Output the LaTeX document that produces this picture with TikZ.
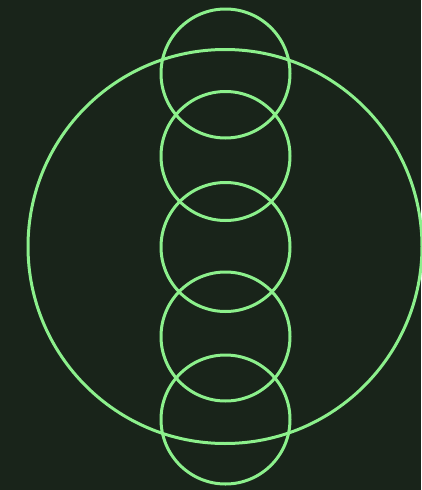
\documentclass[tikz,border=0pt]{standalone}
\definecolor{bg}{HTML}{19241A}
\definecolor{ln}{HTML}{8CF08C}
\begin{document}
\begin{tikzpicture}[x=1pt,y=-1pt,ring/.style={draw=ln,line width=3pt}]
\fill[bg] (0,0) rectangle (421,490);
\useasboundingbox (0,0) rectangle (421,490);
\draw[ring] (225,246.5) circle[radius=197];
\draw[ring] (225.5,73.5) circle[radius=64.5];
\draw[ring] (225.5,156) circle[radius=64.5];
\draw[ring] (225.5,247) circle[radius=64.5];
\draw[ring] (225.5,336.5) circle[radius=64.5];
\draw[ring] (225.5,419.5) circle[radius=64.5];
\end{tikzpicture}
\end{document}
